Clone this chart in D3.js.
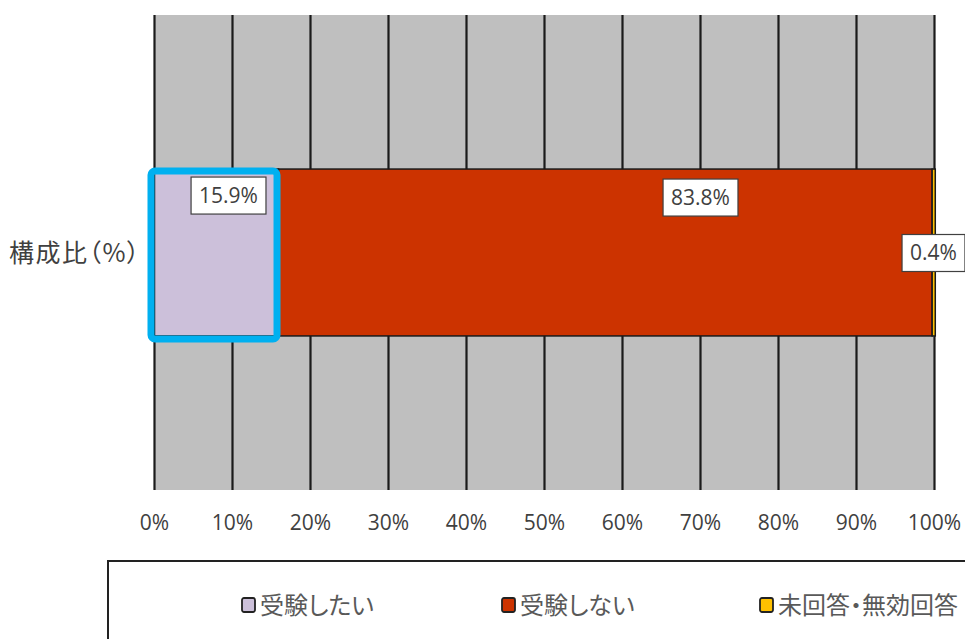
<!DOCTYPE html>
<html>
<head>
<meta charset="utf-8">
<script src="https://cdn.jsdelivr.net/npm/d3@7"></script>
<style>
  html, body { margin: 0; padding: 0; background: #fff; }
  svg { display: block; }
</style>
</head>
<body>
<svg id="chart" width="965" height="639"></svg>
<script>
// Survey response composition (percent)
const categories = ["構成比（%）"];
const seriesNames = ["受験したい", "受験しない", "未回答・無効回答"];
const seriesValues = [15.9, 83.8, 0.4];
const seriesColors = ["#ccc0da", "#cc3300", "#ffc000"];
const tickValues = [0, 10, 20, 30, 40, 50, 60, 70, 80, 90, 100];
const tickLabels = ["0%", "10%", "20%", "30%", "40%", "50%", "60%", "70%", "80%", "90%", "100%"];

const svg = d3.select("#chart");
const latinFont = "'Open Sans', 'Noto Sans', sans-serif";
const jpFont = "'Noto Sans CJK JP', sans-serif";
const textColor = "#404040";

const x = d3.scaleLinear().domain([0, 100]).range([154.5, 934.5]);
const y = d3.scaleBand().domain(categories).range([15, 490]).padding(0.48);

// plot background
svg.append("rect")
  .attr("x", x(0)).attr("y", 15)
  .attr("width", x(100) - x(0)).attr("height", 475)
  .attr("fill", "#bfbfbf");

// vertical gridlines
svg.append("g").selectAll("line").data(tickValues).join("line")
  .attr("x1", d => x(d)).attr("x2", d => x(d))
  .attr("y1", 15).attr("y2", 490)
  .attr("stroke", "#1a1a1a").attr("stroke-width", 2.2);

// stacked segments
const stacked = [];
let acc = 0;
seriesValues.forEach((v, i) => { stacked.push({ name: seriesNames[i], v, x0: acc, x1: acc + v, color: seriesColors[i] }); acc += v; });

const bars = svg.append("g");
bars.selectAll("rect").data(stacked).join("rect")
  .attr("x", d => x(d.x0))
  .attr("y", y(categories[0]))
  .attr("width", d => x(d.x1) - x(d.x0))
  .attr("height", y.bandwidth())
  .attr("fill", d => d.color)
  .attr("stroke", "#1a1a1a")
  .attr("stroke-width", 1.5);

// highlight frame around the first segment
svg.append("rect")
  .attr("x", x(stacked[0].x0) - 3.5)
  .attr("y", y(categories[0]) + 2)
  .attr("width", x(stacked[0].x1) - x(stacked[0].x0) + 2)
  .attr("height", y.bandwidth() + 1)
  .attr("rx", 4)
  .attr("fill", "none")
  .attr("stroke", "#00b0f0")
  .attr("stroke-width", 7);

// value labels (boxed)
const bandTop = y(categories[0]);
const bandMid = bandTop + y.bandwidth() / 2;
const labelPos = [
  { cx: x(stacked[0].x1) - 50, cy: bandTop + 26 },
  { cx: x(stacked[1].x0) + 422, cy: bandTop + 28 },
  { cx: x(100) - 1, cy: bandMid }
];
const labels = svg.append("g");
stacked.forEach((d, i) => {
  const g = labels.append("g").attr("transform", `translate(${labelPos[i].cx},${labelPos[i].cy})`);
  const t = g.append("text")
    .attr("text-anchor", "middle").attr("dy", "0.36em")
    .attr("font-family", latinFont).attr("font-size", 21)
    .attr("fill", textColor)
    .text(d.v.toFixed(1) + "%");
  const bb = t.node().getBBox();
  g.insert("rect", "text")
    .attr("x", bb.x - 8).attr("y", -18)
    .attr("width", bb.width + 16).attr("height", 37)
    .attr("fill", "#fff").attr("stroke", "#404040").attr("stroke-width", 1.2);
});

// x axis tick labels
svg.append("g").selectAll("text").data(tickValues).join("text")
  .attr("x", d => x(d)).attr("y", 522)
  .attr("dy", "0.36em")
  .attr("text-anchor", "middle")
  .attr("font-family", latinFont).attr("font-size", 21)
  .attr("fill", textColor)
  .text((d, i) => tickLabels[i]);

// category label
svg.append("text")
  .attr("x", 141).attr("y", bandMid)
  .attr("dy", "0.36em")
  .attr("text-anchor", "end")
  .attr("font-family", jpFont).attr("font-size", 25)
  .attr("letter-spacing", 1.5)
  .style("font-feature-settings", "'palt'")
  .attr("fill", textColor)
  .text(categories[0]);

// legend
svg.append("rect")
  .attr("x", 108).attr("y", 561)
  .attr("width", 900).attr("height", 200)
  .attr("fill", "#fff").attr("stroke", "#222").attr("stroke-width", 2);

const legendX = [242, 502, 760];
const legend = svg.append("g").selectAll("g").data(stacked).join("g")
  .attr("transform", (d, i) => `translate(${legendX[i]},605)`);
legend.append("rect")
  .attr("x", 0).attr("y", -7).attr("width", 13).attr("height", 14)
  .attr("rx", 2)
  .attr("fill", d => d.color).attr("stroke", "#222").attr("stroke-width", 1.8);
legend.append("text")
  .attr("x", 18).attr("y", 0).attr("dy", "0.36em")
  .attr("font-family", jpFont).attr("font-size", 24)
  .style("font-feature-settings", "'palt'")
  .attr("fill", "#595959")
  .text(d => d.name);
</script>
</body>
</html>
